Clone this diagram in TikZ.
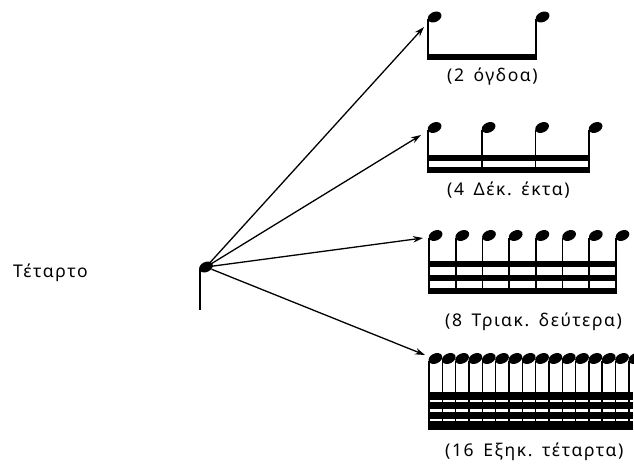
\documentclass[tikz,border=0pt]{standalone}
\usepackage{fontspec}
\setmainfont[LetterSpace=9]{Noto Sans}
\usetikzlibrary{arrows.meta}
\newcommand\gap{\hspace{0.55em}}
\begin{document}
\begin{tikzpicture}[x=1pt,y=-1pt,
  stemline/.style={line width=1.6pt},
  beambar/.style={fill=black},
  arrowline/.style={line width=1.3pt,-{Stealth[length=10pt,width=6.5pt]}},
  lbl/.style={font=\fontsize{17.5}{19}\selectfont,inner sep=0pt,anchor=west}]
\useasboundingbox (0,0) rectangle (634,464);
\tikzset{nhead/.pic={\fill[rotate=25] (0,0) ellipse (7.2 and 5);}}
% quarter note
\coordinate (q) at (206,267);
\pic at (q) {nhead};
\draw[stemline] (199.8,269) -- (199.8,310);
\node[lbl] (tet) at (13,273) {Τέταρτο};
% group 1: 2 eighths
\foreach \x in {428,536}{
  \pic at (\x+6.6,17) {nhead};
  \draw[stemline] (\x,19) -- (\x,58);
}
\fill[beambar] (427.2,53.5) rectangle (536.8,59.5);
\coordinate (g1) at (424,27);
\node[lbl] (l1) at (447,77) {(2\gap όγδοα)};
% group 2: 4 sixteenths
\foreach \x in {428,482,535.5,589}{
  \pic at (\x+6.6,127.5) {nhead};
  \draw[stemline] (\x,130) -- (\x,172.5);
}
\fill[beambar] (427.2,155) rectangle (589.8,161);
\fill[beambar] (427.2,166.5) rectangle (589.8,172.5);
\coordinate (g2) at (421,135);
\node[lbl] (l2) at (447,190) {(4\gap Δέκ.\gap έκτα)};
% group 3: 8 thirty-seconds
\foreach \i in {0,...,7}{
  \pic at (429+\i*26.7+6.6,235.5) {nhead};
  \draw[stemline] (429+\i*26.7,238) -- (429+\i*26.7,293.5);
}
\fill[beambar] (428.2,261) rectangle (616.7,267);
\fill[beambar] (428.2,274.5) rectangle (616.7,280.5);
\fill[beambar] (428.2,288) rectangle (616.7,294);
\coordinate (g3) at (423,238);
\node[lbl] (l3) at (445,322) {(8\gap Τριακ.\gap δεύτερα)};
% group 4: 16 sixty-fourths
\foreach \i in {0,...,15}{
  \pic at (429+\i*13.33+6.4,358.5) {nhead};
  \draw[stemline] (429+\i*13.33,361) -- (429+\i*13.33,430);
}
\fill[beambar] (428.2,392) rectangle (633,399.5);
\fill[beambar] (428.2,401.8) rectangle (633,409.3);
\fill[beambar] (428.2,411.6) rectangle (633,419.1);
\fill[beambar] (428.2,421.4) rectangle (633,430);
\coordinate (g4) at (425,355);
\node[lbl] (l4) at (445,452) {(16\gap Εξηκ.\gap τέταρτα)};
% arrows
\foreach \t in {g1,g2,g3,g4}{
  \draw[arrowline,shorten <=6pt] (q) -- (\t);
}
\end{tikzpicture}
\end{document}
